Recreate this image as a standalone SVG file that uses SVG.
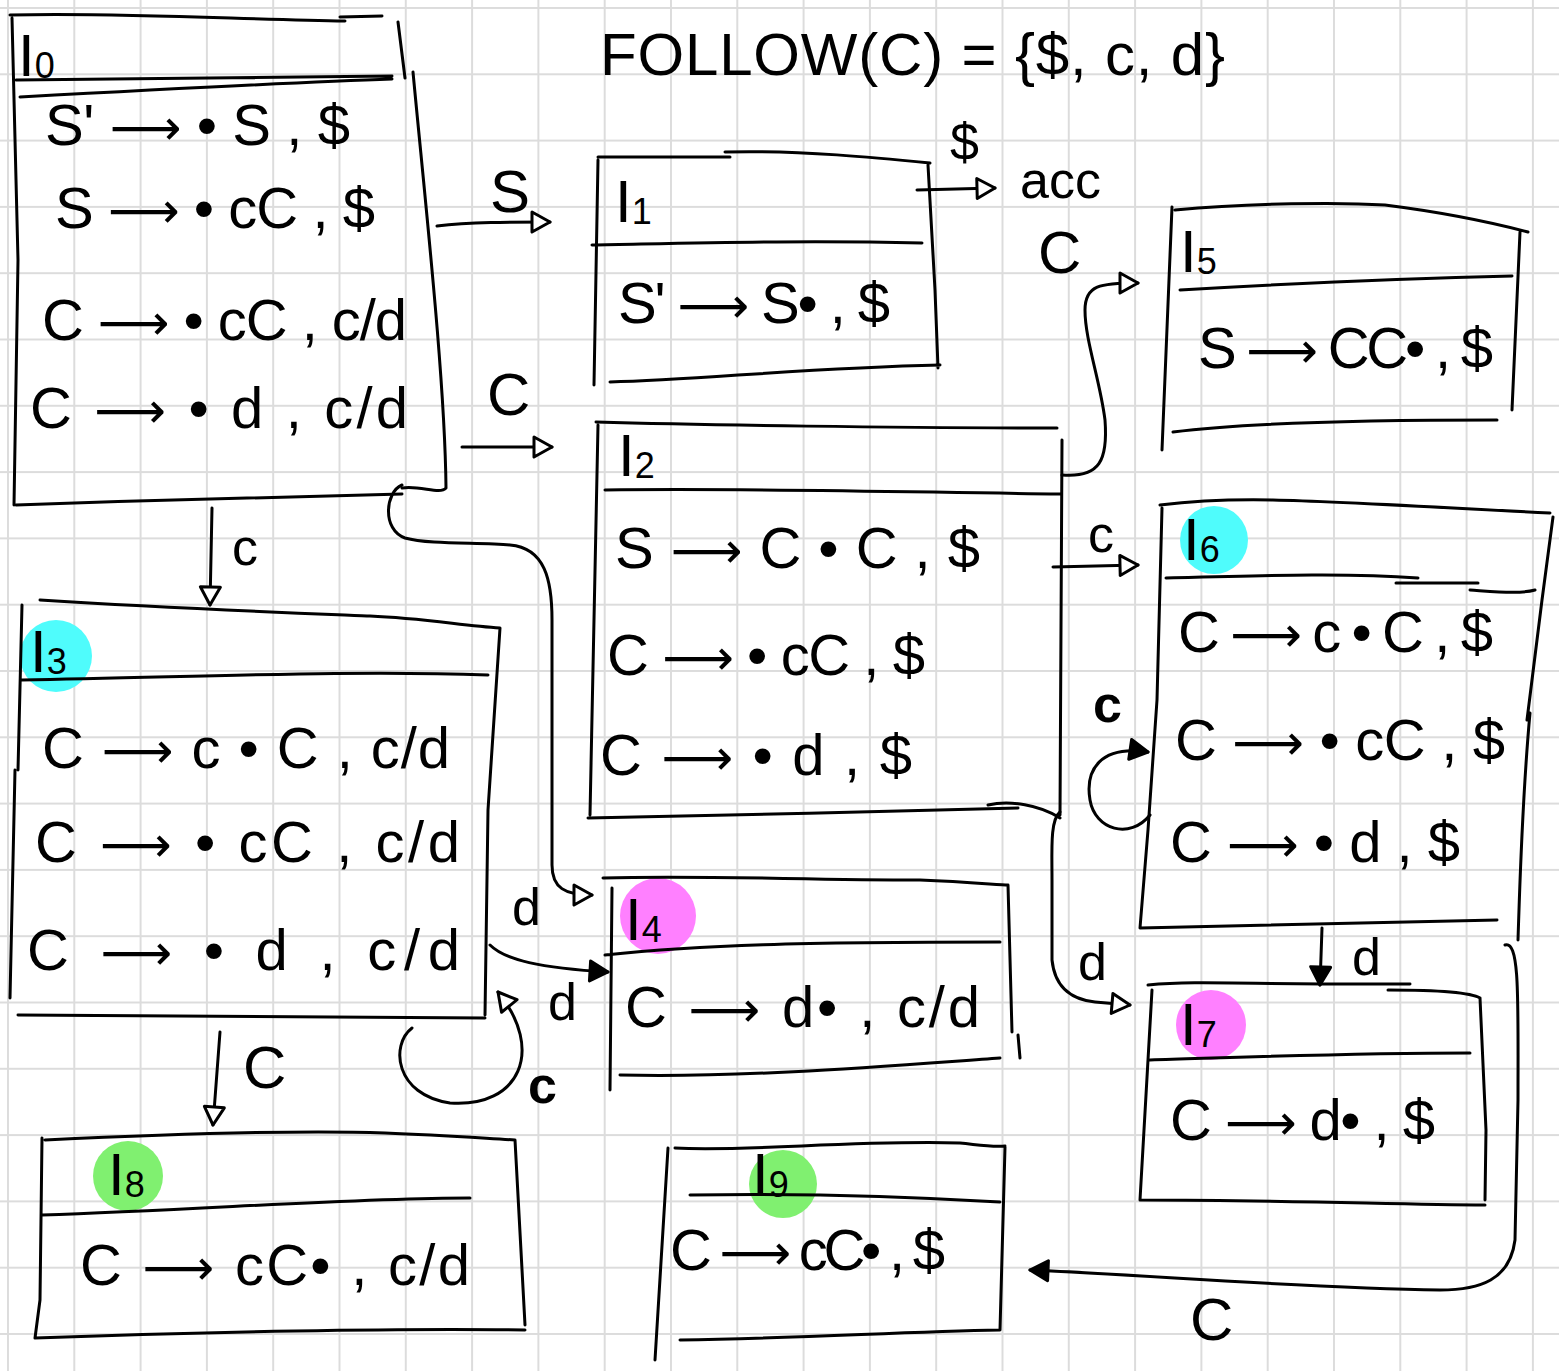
<svg xmlns="http://www.w3.org/2000/svg" width="1559" height="1371" viewBox="0 0 1559 1371">
<defs>
<pattern id="grid" width="66.3" height="66.3" patternUnits="userSpaceOnUse" x="7" y="7">
<path d="M1,0 L1,66.3 M0,1 L66.3,1" stroke="#dcdcdc" stroke-width="2" fill="none"/>
</pattern>
<marker id="hollow" markerWidth="26" markerHeight="26" refX="21" refY="13" orient="auto" markerUnits="userSpaceOnUse">
<path d="M3,3 L21,13 L3,23 Z" fill="#fff" stroke="#000" stroke-width="3" stroke-linejoin="round"/>
</marker>
<marker id="filled" markerWidth="26" markerHeight="26" refX="21" refY="13" orient="auto" markerUnits="userSpaceOnUse">
<path d="M3,3 L21,13 L3,23 Z" fill="#000" stroke="#000" stroke-width="3" stroke-linejoin="round"/>
</marker>
</defs>
<style>
.ln{fill:none;stroke:#000;stroke-width:3;stroke-linecap:round;stroke-linejoin:round}
.t{font-family:"Liberation Sans","DejaVu Sans",sans-serif;font-size:58px;fill:#000}
.ar{font-family:"DejaVu Sans",sans-serif;font-size:50px}
.lab{font-family:"Liberation Sans","DejaVu Sans",sans-serif;font-size:60px;fill:#000}
.sub{font-size:36px}
.el{font-family:"Liberation Sans","DejaVu Sans",sans-serif;font-size:52px;fill:#000}
.cyan{fill:#4ffcfc}
.mag{fill:#ff80ff}
.grn{fill:#80f070}
</style>
<rect width="1559" height="1371" fill="#fff"/>
<rect width="1559" height="1371" fill="url(#grid)"/>

<g id="title">
<text class="lab" x="600" y="75" font-size="64" textLength="625">FOLLOW(C) = {$, c, d}</text>
</g>

<g id="I0">
<path class="ln" d="M10,15 C120,12 250,20 345,21 M340,17 L382,16 M12,18 L18,260 L14,505 M398,22 L405,78 M413,72 C425,200 445,380 446,488 C440,495 420,485 402,488 M16,505 C150,500 300,496 402,494 M16,80 L392,76 M20,97 C150,90 300,82 392,79"/>
<text class="lab" x="18" y="76">I<tspan class="sub" dy="2">0</tspan></text>
<text class="t" x="45" y="145" textLength="305">S' <tspan class="ar">⟶</tspan> • S , $</text>
<text class="t" x="55" y="228" textLength="320">S <tspan class="ar">⟶</tspan> • cC , $</text>
<text class="t" x="42" y="340" textLength="365">C <tspan class="ar">⟶</tspan> • cC , c/d</text>
<text class="t" x="30" y="428" textLength="378">C <tspan class="ar">⟶</tspan> • d , c/d</text>
</g>

<g id="I1">
<path class="ln" d="M598,157 L730,157 M725,152 C800,150 880,158 930,163 M598,160 L594,385 M928,165 L935,290 L938,368 M592,245 C700,243 800,240 922,243 M610,382 C700,380 800,368 940,365"/>
<text class="lab" x="615" y="222">I<tspan class="sub" dy="2">1</tspan></text>
<text class="t" x="618" y="323" textLength="272">S' <tspan class="ar">⟶</tspan> S• , $</text>
</g>

<g id="I2">
<path class="ln" d="M596,422 C700,425 900,428 1057,428 M598,425 L590,815 M605,490 C750,488 900,492 1060,494 M1062,440 L1060,815 M988,805 C1010,800 1040,805 1060,818 M588,818 C700,815 900,812 1018,808"/>
<text class="lab" x="618" y="476">I<tspan class="sub" dy="2">2</tspan></text>
<text class="t" x="615" y="568" textLength="365">S <tspan class="ar">⟶</tspan> C • C , $</text>
<text class="t" x="607" y="675" textLength="318">C <tspan class="ar">⟶</tspan> • cC , $</text>
<text class="t" x="600" y="775" textLength="312">C <tspan class="ar">⟶</tspan> • d , $</text>
</g>

<g id="I3">
<circle class="cyan" cx="56" cy="656" r="36"/>
<path class="ln" d="M40,600 C200,610 350,615 370,616 C420,618 460,625 500,628 M22,605 L18,770 M15,770 L10,998 M22,680 C200,677 350,670 488,675 M500,628 L488,810 L485,1015 M18,1015 C200,1017 350,1018 485,1018"/>
<text class="lab" x="30" y="672">I<tspan class="sub" dy="2">3</tspan></text>
<text class="t" x="42" y="768" textLength="408">C <tspan class="ar">⟶</tspan> c • C , c/d</text>
<text class="t" x="35" y="862" textLength="425">C <tspan class="ar">⟶</tspan> • cC , c/d</text>
<text class="t" x="27" y="970" textLength="433">C <tspan class="ar">⟶</tspan> • d , c/d</text>
</g>

<g id="I4">
<circle class="mag" cx="658" cy="916" r="38"/>
<path class="ln" d="M603,878 C700,875 800,880 920,880 C970,882 1000,885 1008,885 M612,888 L610,1090 M605,955 C700,945 800,942 1000,942 M1008,885 L1012,1032 M1018,1035 L1020,1058 M620,1075 C750,1078 900,1065 1000,1058"/>
<text class="lab" x="625" y="940">I<tspan class="sub" dy="2">4</tspan></text>
<text class="t" x="625" y="1027" textLength="355">C <tspan class="ar">⟶</tspan> d• , c/d</text>
</g>

<g id="I5">
<path class="ln" d="M1172,207 L1162,450 M1175,210 C1250,203 1340,202 1385,205 C1440,212 1490,222 1528,232 M1180,290 C1300,283 1420,278 1512,276 M1520,232 L1512,410 M1173,432 C1250,422 1400,420 1497,420"/>
<text class="lab" x="1180" y="272">I<tspan class="sub" dy="2">5</tspan></text>
<text class="t" x="1198" y="368" textLength="295">S <tspan class="ar">⟶</tspan> CC• , $</text>
</g>

<g id="I6">
<circle class="cyan" cx="1214" cy="540" r="34"/>
<path class="ln" d="M1160,505 C1240,495 1300,500 1550,513 M1162,508 L1157,700 L1148,830 L1140,928 M1166,578 C1280,575 1350,573 1418,578 M1396,583 L1478,583 M1470,590 C1500,592 1520,594 1535,590 M1553,517 L1542,600 L1527,720 M1530,713 C1522,800 1520,880 1518,940 M1140,928 C1300,925 1400,922 1497,920"/>
<text class="lab" x="1183" y="560">I<tspan class="sub" dy="2">6</tspan></text>
<text class="t" x="1178" y="652" textLength="315">C <tspan class="ar">⟶</tspan> c • C , $</text>
<text class="t" x="1175" y="760" textLength="330">C <tspan class="ar">⟶</tspan> • cC , $</text>
<text class="t" x="1170" y="862" textLength="290">C <tspan class="ar">⟶</tspan> • d , $</text>
</g>

<g id="I7">
<circle class="mag" cx="1211" cy="1025" r="35"/>
<path class="ln" d="M1148,985 C1200,980 1250,985 1410,984 M1388,990 C1430,990 1470,992 1480,998 M1152,990 L1140,1200 M1150,1060 C1250,1057 1350,1053 1470,1053 M1480,998 L1486,1130 L1485,1200 M1140,1200 C1300,1200 1400,1205 1485,1205"/>
<text class="lab" x="1180" y="1045">I<tspan class="sub" dy="2">7</tspan></text>
<text class="t" x="1170" y="1140" textLength="265">C <tspan class="ar">⟶</tspan> d• , $</text>
</g>

<g id="I8">
<circle class="grn" cx="128" cy="1176" r="35"/>
<path class="ln" d="M45,1140 C150,1135 300,1130 385,1133 C440,1135 480,1138 515,1140 M42,1138 L40,1300 L35,1338 M42,1215 C200,1210 350,1198 470,1198 M515,1140 L525,1325 M35,1338 C200,1332 400,1328 525,1330"/>
<text class="lab" x="108" y="1195">I<tspan class="sub" dy="2">8</tspan></text>
<text class="t" x="80" y="1285" textLength="390">C <tspan class="ar">⟶</tspan> cC• , c/d</text>
</g>

<g id="I9">
<circle class="grn" cx="783" cy="1184" r="34"/>
<path class="ln" d="M668,1148 L655,1360 M675,1148 C750,1152 850,1140 960,1143 C980,1145 990,1147 1005,1146 M690,1195 C800,1193 900,1196 1000,1202 M1005,1147 L1000,1330 M680,1340 C800,1338 900,1332 1000,1330"/>
<text class="lab" x="752" y="1195">I<tspan class="sub" dy="2">9</tspan></text>
<text class="t" x="670" y="1270" textLength="275">C <tspan class="ar">⟶</tspan> cC• , $</text>
</g>

<g id="edges">
<path class="ln" marker-end="url(#hollow)" d="M437,226 C470,222 510,222 550,222"/>
<path class="ln" marker-end="url(#hollow)" d="M462,447 L552,447"/>
<path class="ln" marker-end="url(#hollow)" d="M917,190 L995,188"/>
<path class="ln" marker-end="url(#hollow)" d="M1062,475 C1100,478 1108,460 1105,420 C1100,380 1085,340 1085,310 C1085,285 1100,283 1138,283"/>
<path class="ln" marker-end="url(#hollow)" d="M212,508 L210,605"/>
<path class="ln" marker-end="url(#hollow)" d="M402,485 C385,492 382,530 405,538 C430,545 480,542 510,545 C545,548 552,580 552,620 L552,865 C552,888 565,895 592,895"/>
<path class="ln" marker-end="url(#filled)" d="M490,945 C505,960 540,968 608,972"/>
<path class="ln" marker-end="url(#hollow)" d="M412,1028 C390,1045 395,1095 450,1103 C520,1108 545,1050 498,992"/>
<path class="ln" marker-end="url(#hollow)" d="M220,1032 L213,1125"/>
<path class="ln" marker-end="url(#hollow)" d="M1053,567 L1138,565"/>
<path class="ln" marker-end="url(#filled)" d="M1150,815 C1130,840 1095,830 1090,800 C1085,770 1100,745 1148,752"/>
<path class="ln" marker-end="url(#hollow)" d="M1060,812 C1050,820 1052,850 1052,880 L1052,960 C1055,990 1075,1000 1095,1002 L1130,1005"/>
<path class="ln" marker-end="url(#filled)" d="M1322,928 L1320,985"/>
<path class="ln" marker-end="url(#filled)" d="M1505,945 C1520,940 1518,1000 1518,1100 L1515,1240 C1510,1280 1480,1290 1440,1290 C1300,1288 1150,1275 1030,1270"/>
<text class="lab" x="490" y="212">S</text>
<text class="lab" x="487" y="415">C</text>
<text class="el" x="950" y="160" font-size="40">$</text>
<text class="el" x="1020" y="198" font-size="46">acc</text>
<text class="lab" x="1038" y="273">C</text>
<text class="el" x="232" y="565">c</text>
<text class="el" x="512" y="925">d</text>
<text class="el" x="548" y="1020">d</text>
<text class="el" x="528" y="1103" font-weight="bold">c</text>
<text class="lab" x="243" y="1088">C</text>
<text class="el" x="1088" y="552">c</text>
<text class="el" x="1093" y="722" font-weight="bold">c</text>
<text class="el" x="1078" y="980">d</text>
<text class="el" x="1352" y="975">d</text>
<text class="lab" x="1190" y="1340">C</text>
</g>
</svg>
